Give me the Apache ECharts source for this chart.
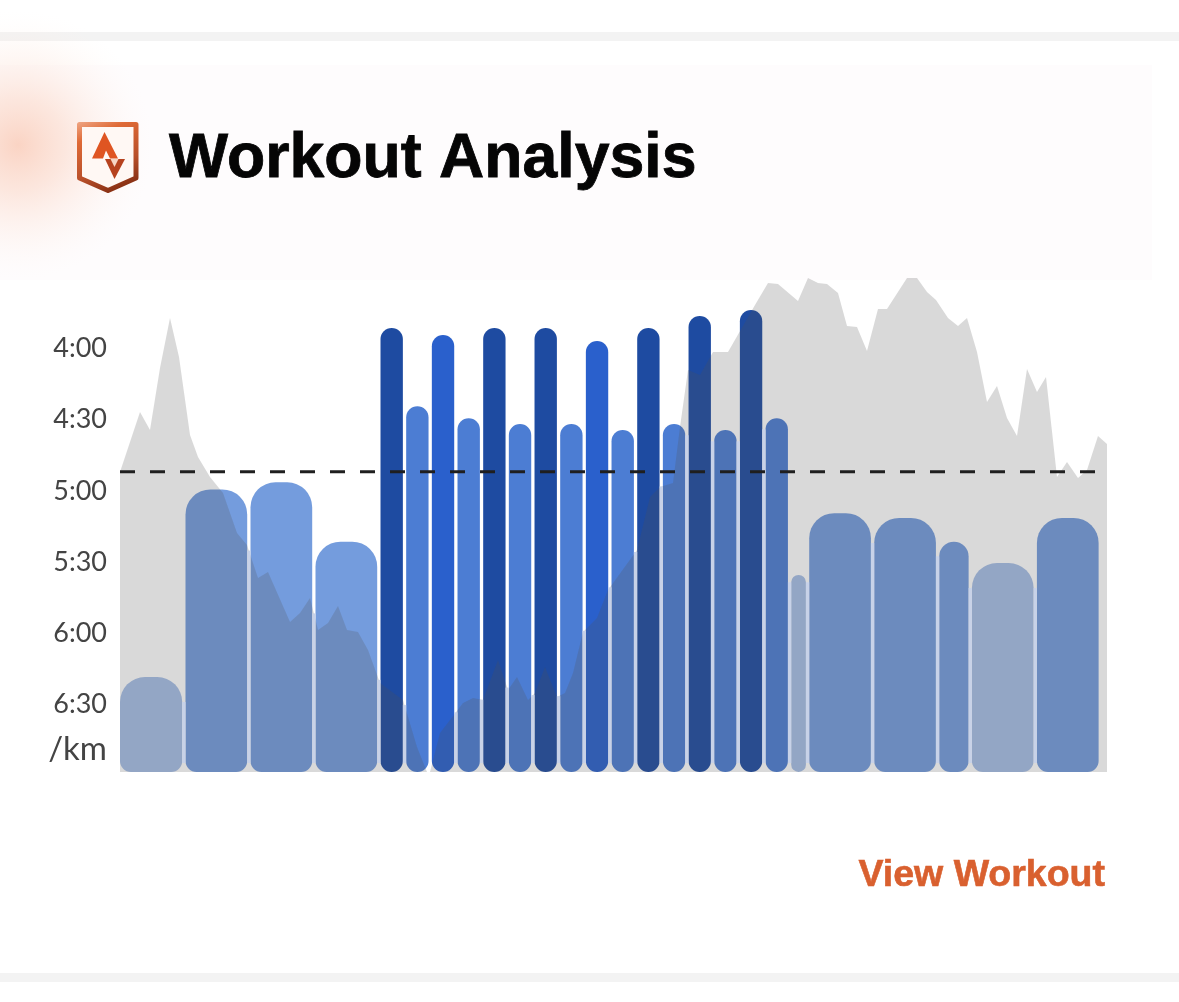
<!DOCTYPE html>
<html><head><meta charset="utf-8">
<style>html,body{margin:0;padding:0;background:#fff}#c{width:1179px;height:1002px}</style>
<script src="https://cdn.jsdelivr.net/npm/echarts@6/dist/echarts.min.js"></script>
</head><body><div id="c"></div>
<script>
const titleText = 'Workout Analysis';
const linkText = 'View Workout';
const paceTicks = [240, 270, 300, 330, 360, 390, 409];
const paceTickLabels = ['4:00', '4:30', '5:00', '5:30', '6:00', '6:30', '/km'];
const avgPace = 292.6;
// Workout laps: duration (hidden axis units), pace (sec/km), effort zone
const lapDurations = [65.5,65,65,65,25.67,25.67,25.67,25.67,25.67,25.67,25.67,25.67,25.67,25.67,25.67,25.67,25.67,25.67,25.67,25.67,18,65,65,32.7,65,65];
const lapPaces = [379,300,297,322,232,265,235,270,232,272.5,232,272.5,237.5,275,232,272.5,227,275,224.5,270,336,310,312,322,331,312];
const lapZones = [0,1,1,1,3,2,4,2,3,2,3,2,4,2,3,2,3,2,3,2,0,1,1,1,0,1];
// Elevation profile
const elevPos = [0,20,30,40,50,59,70,78,90,103,117,127,138,148,170,180,190,198,208,218,227,238,248,260,283,297,307,310,320,330,343,353,363,378,388,397,408,415,425,437,445,453,463,477,488,517,530,540,553,560,568,580,593,608,635,648,658,678,688,698,707,718,727,737,747,758,767,787,797,807,816,828,838,847,857,867,877,887,897,907,917,926,937,947,958,967,978,987];
const elevVal = [300,360,342,404,454,415,337,315,295,279,239,227,194,200,150,159,174,142,149,166,142,140,122,89,72,25,0,0,39,52,69,74,72,112,82,95,72,79,105,75,79,99,140,154,182,222,275,285,289,345,402,397,420,420,467,489,488,471,494,489,488,479,446,445,421,463,463,494,494,480,472,454,446,454,420,370,386,354,336,403,380,395,295,310,294,302,336,328];

const zoneColors = ['#A6BEE6', '#749CDD', '#4C7DD3', '#1E4BA1', '#2A60CC'];
const GAP = 3.3;
const laps = [];
let cursor = 0;
lapDurations.forEach((d, i) => { laps.push([cursor, d, lapPaces[i], lapZones[i]]); cursor += d; });

function elevAt(p) {
  for (let i = 1; i < elevPos.length; i++) {
    if (p <= elevPos[i]) {
      const t = (p - elevPos[i-1]) / (elevPos[i] - elevPos[i-1]);
      return elevVal[i-1] + t * (elevVal[i] - elevVal[i-1]);
    }
  }
  return elevVal[elevVal.length-1];
}

const chart = echarts.init(document.getElementById('c'), null, {renderer:'canvas', width:1179, height:1002});
const iconGrad = {type:'linear',x:0,y:0,x2:0.5,y2:1,colorStops:[{offset:0,color:'#EFA684'},{offset:0.25,color:'#DF6A36'},{offset:0.7,color:'#B9502A'},{offset:1,color:'#8A3114'}]};
chart.setOption({
  animation:false,
  backgroundColor:'#ffffff',
  tooltip:{show:false},
  grid:{left:120,top:278,width:987,height:494,containLabel:false},
  xAxis:{type:'value',min:0,max:987,show:false},
  yAxis:[
    {type:'value',inverse:true,min:211,max:419,
     axisLine:{show:false},axisTick:{show:false},splitLine:{show:false},
     axisLabel:{show:true,customValues:paceTicks,margin:13,color:'#444444',fontFamily:'Lato',fontSize:27,padding:[3,0,0,0],
       formatter:function(v){const i=paceTicks.indexOf(v);const s=i>=0?paceTickLabels[i]:'';return s==='/km'?'{km|/km}':s;},
       rich:{km:{fontFamily:'Lato',fontSize:33,color:'#444444'}}}},
    {type:'value',min:0,max:494,show:false}
  ],
  series:[
    {type:'custom',name:'Laps',z:2,xAxisIndex:0,yAxisIndex:0,clip:false,silent:true,
     data:laps,encode:{x:0,y:2},
     renderItem:function(params,api){
       const s=api.value(0),d=api.value(1),p=api.value(2),z=api.value(3);
       const a=api.coord([s,p]),b=api.coord([s+d,419]);
       const w=b[0]-a[0]-GAP,h=b[1]-a[1];
       const rt=Math.min(w/2,25),rb=Math.min(w/2,11);
       return {type:'rect',shape:{x:a[0],y:a[1],width:w,height:h,r:[rt,rt,rb,rb]},style:{fill:zoneColors[z]}};
     }},
    {type:'line',name:'Elevation',z:3,xAxisIndex:0,yAxisIndex:1,showSymbol:false,symbol:'none',silent:true,
     lineStyle:{width:0},areaStyle:{color:'rgba(82,82,82,0.22)',origin:'start',opacity:1},
     data:elevPos.map((x,i)=>[x,elevVal[i]])},
    {type:'custom',name:'LapGaps',z:4,xAxisIndex:0,yAxisIndex:0,silent:true,
     data:laps.slice(1).map((l,i)=>[l[0],i]),encode:{x:0},
     renderItem:function(params,api){
       const s=api.value(0),i=api.value(1);
       const x0=api.coord([s,419]);
       const yElev=772-elevAt(s-GAP/2);
       const wa=lapDurations[i]-GAP,wb=lapDurations[i+1]-GAP;
       const ya=api.coord([s,lapPaces[i]])[1]+Math.min(wa/2,25);
       const yb=api.coord([s,lapPaces[i+1]])[1]+Math.min(wb/2,25);
       const top=Math.max(yElev,ya,yb),bot=x0[1]-9;
       if(top>=bot) return null;
       return {type:'rect',shape:{x:x0[0]-GAP,y:top,width:GAP,height:bot-top},style:{fill:'#C8D2E8'}};
     }},
    {type:'line',name:'Average',z:6,xAxisIndex:0,yAxisIndex:0,showSymbol:false,symbol:'none',silent:true,
     lineStyle:{color:'#1F1F1F',width:3,type:[15,15]},
     data:[[0,avgPace],[987,avgPace]]}
  ],
  graphic:[
    {type:'rect',z:-20,silent:true,shape:{x:0,y:32,width:1179,height:9},style:{fill:'#F3F3F3'}},
    {type:'rect',z:-20,silent:true,shape:{x:0,y:973,width:1179,height:9},style:{fill:'#F3F3F3'}},
    {type:'rect',z:-19,silent:true,shape:{x:0,y:65,width:1152,height:215},style:{fill:'#FEFCFD'}},
    {type:'circle',z:-18,silent:true,shape:{cx:18,cy:145,r:135},
     style:{fill:{type:'radial',x:0.5,y:0.5,r:0.5,colorStops:[{offset:0,color:'rgba(248,190,165,0.65)'},{offset:0.35,color:'rgba(250,205,185,0.45)'},{offset:0.7,color:'rgba(252,225,212,0.2)'},{offset:1,color:'rgba(254,245,240,0)'}]}}},
    {type:'polygon',z:10,silent:true,shape:{points:[[79.5,124.5],[136,124.5],[136,178],[108,190.5],[79.5,178]]},
     style:{fill:'#FFF8F4',stroke:iconGrad,lineWidth:5,lineJoin:'round'}},
    {type:'polygon',z:11,silent:true,shape:{points:[[104.5,132],[92,158.5],[103,158.5],[106,150.5],[110,158.5],[118,158.5]]},style:{fill:'#DF5522'}},
    {type:'polygon',z:11,silent:true,shape:{points:[[105,159],[125,159],[114.5,179]]},style:{fill:'#B6421E'}},
    {type:'polygon',z:12,silent:true,shape:{points:[[110.5,159],[118.5,159],[114.5,167]]},style:{fill:'#F6D5C4'}},
    {type:'text',z:10,silent:true,x:169,y:160,style:{text:titleText,fill:'#050505',stroke:'#050505',lineWidth:0.8,font:'bold 62.6px "Liberation Sans"',verticalAlign:'middle',align:'left'}},
    {type:'text',z:10,silent:true,x:1105,y:876,style:{text:linkText,fill:'#D9602F',stroke:'#D9602F',lineWidth:0.6,font:'bold 37.5px "Liberation Sans"',verticalAlign:'middle',align:'right'}}
  ]
});
</script></body></html>
